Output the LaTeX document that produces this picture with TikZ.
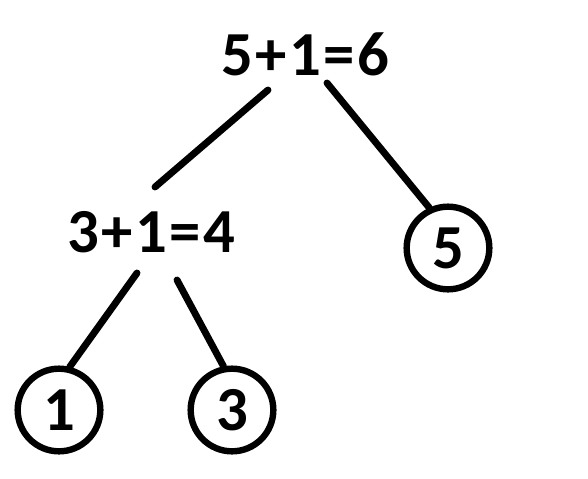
\documentclass[tikz,border=0pt]{standalone}
\usepackage{fontspec}
\setmainfont{Carlito}
\newfontfamily\lblfont[LetterSpace=4]{Carlito}
\begin{document}
\begin{tikzpicture}[x=0.75pt,y=-0.75pt,
  lbl/.style={font=\lblfont\fontsize{47}{50}\selectfont\bfseries, inner sep=0pt},
  leaf/.style={circle, draw, line width=4.8pt, minimum size=62pt, inner sep=0pt,
    font=\fontsize{47}{50}\selectfont\bfseries},
  edge/.style={line width=5.2pt, line cap=round}]
\useasboundingbox[fill=white] (0,0) rectangle (588,478);
\node[lbl] (top) at (305,54) {5+1=6};
\node[lbl] (mid) at (151,232) {3+1=4};
\node[leaf] (c5) at (448,248) {5};
\node[leaf] (c1) at (59,410) {1};
\node[leaf] (c3) at (232,410) {3};
\draw[edge] ([shift={(-37,36)}]top.center) -- ([shift={(4,-45)}]mid.center);
\draw[edge] ([shift={(22,29)}]top.center) -- (c5.115);
\draw[edge] ([shift={(-14,41)}]mid.center) -- (c1.76);
\draw[edge] ([shift={(26,48)}]mid.center) -- (c3.101);
\end{tikzpicture}
\end{document}
